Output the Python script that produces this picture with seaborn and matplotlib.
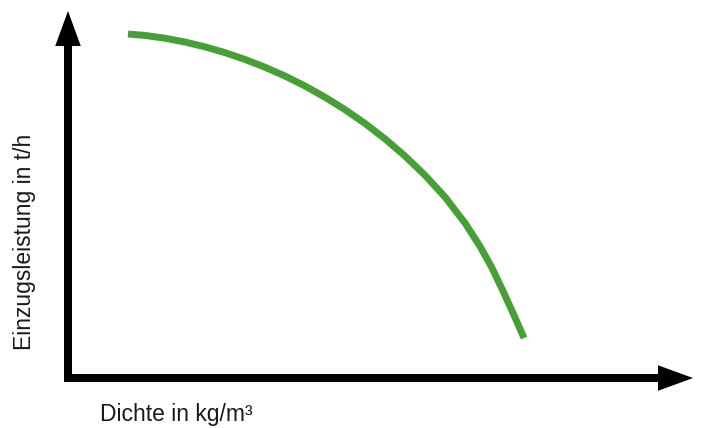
import numpy as np
import pandas as pd
import matplotlib
matplotlib.use("Agg")
import matplotlib.pyplot as plt
import seaborn as sns

# Kennlinie: Einzugsleistung ueber Dichte
dichte = [0.960, 1.232, 1.552, 1.872, 2.192, 2.512, 2.832, 3.152,
          3.472, 3.792, 4.112, 4.432, 4.752, 5.072, 5.392, 5.712,
          6.032, 6.352, 6.592, 6.784, 6.960, 7.136, 7.296]
einzug = [5.624, 5.601, 5.555, 5.493, 5.414, 5.320, 5.208, 5.081,
          4.937, 4.774, 4.591, 4.388, 4.162, 3.910, 3.629, 3.315,
          2.959, 2.534, 2.153, 1.800, 1.422, 1.027, 0.654]

x_label = "Dichte in kg/m³"
y_label = "Einzugsleistung in t/h"

sns.set_theme(style="white")
plt.rcParams['font.family'] = ['Liberation Sans', 'DejaVu Sans']

df = pd.DataFrame({"dichte": dichte, "einzug": einzug})

fig = plt.figure(figsize=(7.01, 4.28), dpi=100)
ax = fig.add_axes([0, 0, 1, 1])
ax.set_xlim(-1.088, 10.128)
ax.set_ylim(-0.817, 6.18)

# Achsen mit Pfeilspitzen
axis_lw = 5.76
ax.plot([0, 0], [-0.065, 5.5], color='black', lw=axis_lw, solid_capstyle='butt')
ax.plot([-0.064, 9.5], [0, 0], color='black', lw=axis_lw, solid_capstyle='butt')
head = dict(arrowstyle='-|>,head_length=25.2,head_width=9.2', mutation_scale=1,
            lw=0, color='black', shrinkA=0, shrinkB=0)
ax.annotate('', xy=(0, 6.0), xytext=(0, 5.3), arrowprops=head)
ax.annotate('', xy=(10.0, 0), xytext=(9.3, 0), arrowprops=head)

sns.lineplot(data=df, x="dichte", y="einzug", sort=False, color="#45a035",
             lw=5.0, solid_capstyle='butt', ax=ax)
ax.axis('off')

ax.text(0.512, -0.703, x_label, fontsize=16.5, color='#1a1a1a',
        ha='left', va='baseline')
ax.text(-0.704, 2.23, y_label, fontsize=16.5, color='#1a1a1a',
        rotation=90, ha='center', va='center')

fig.savefig("out.png", dpi=100)
